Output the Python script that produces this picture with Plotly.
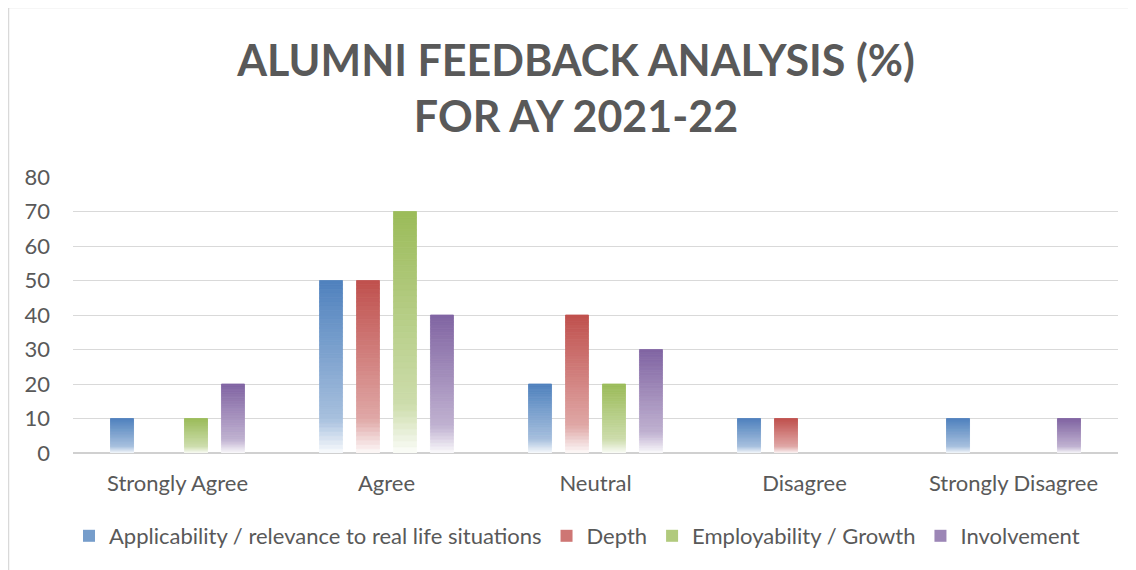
import plotly.graph_objects as go

categories = ["Strongly Agree", "Agree", "Neutral", "Disagree", "Strongly Disagree"]
applicability = [10, 50, 20, 10, 10]
depth = [0, 50, 40, 10, 0]
employability = [10, 70, 20, 0, 0]
involvement = [20, 40, 30, 0, 10]

series = [
    ("Applicability / relevance to real life situations", applicability, (79, 129, 189)),
    ("Depth", depth, (192, 80, 77)),
    ("Employability / Growth", employability, (155, 187, 89)),
    ("Involvement", involvement, (128, 100, 162)),
]

N = 40  # gradient steps


def mix(rgb, t):
    # t: 0 at top of bar, 1 at bottom
    if t < 0.8:
        w = 0.5 * t / 0.8
    else:
        w = 0.5 + 0.47 * (t - 0.8) / 0.2
    r, g, b = [int(round(c + (255 - c) * w)) for c in rgb]
    return f"rgb({r},{g},{b})"


fig = go.Figure()
for name, vals, rgb in series:
    lw = [0.8 if v > 0 else 0 for v in vals]
    for k in range(N):
        t = 1 - (k + 0.5) / N
        col = mix(rgb, t)
        fig.add_trace(go.Bar(
            x=categories,
            y=[v / N for v in vals],
            base=[v * k / N for v in vals],
            offsetgroup=name,
            marker=dict(color=col, line=dict(width=lw, color=col)),
            showlegend=False,
            hoverinfo="skip",
            legendgroup=name,
        ))
    fig.add_trace(go.Bar(
        x=categories,
        y=[0] * len(categories),
        offsetgroup=name,
        name=name,
        legendgroup=name,
        marker=dict(color=mix(rgb, 0.35), line=dict(width=0)),
        showlegend=True,
    ))

# the page body adds an 8px offset; figure coordinates = page coordinates - 8
OFF = 8
W, H = 1136 - OFF, 570 - OFF
L, R, T, B = 73 - OFF, 18, 177 - OFF, 117
pw = W - L - R
ph = H - T - B


def px_x(x):
    return (x - OFF - L) / pw


def px_y(y):
    return (H - B - (y - OFF)) / ph


fig.update_layout(
    width=W, height=H,
    margin=dict(l=L, r=R, t=T, b=B),
    paper_bgcolor="white",
    plot_bgcolor="white",
    barmode="group",
    bargap=0.292,
    bargroupgap=0.378,
    font=dict(family="Lato", color="#595959", size=22),
    title=dict(
        text="<b>ALUMNI FEEDBACK ANALYSIS (%)<br>FOR AY 2021-22</b>",
        x=568 / W, xanchor="center", xref="container",
        y=1 - 68 / H, yanchor="middle", yref="container",
        font=dict(family="Lato", size=43, color="#595959"),
    ),
    xaxis=dict(
        showgrid=False, showline=False, ticks="",
        tickfont=dict(size=22, color="#595959"),
        ticklabelstandoff=15,
    ),
    yaxis=dict(
        range=[0, 80], dtick=10,
        showgrid=True, gridcolor="#D9D9D9", gridwidth=1.3,
        zeroline=True, zerolinecolor="#D0D0D0", zerolinewidth=1.5,
        showline=False, ticks="",
        tickfont=dict(size=22, color="#595959"),
        ticklabelstandoff=22,
    ),
    legend=dict(
        orientation="h", x=px_x(577), xanchor="center",
        y=px_y(536), yanchor="middle",
        font=dict(size=22, color="#595959"),
        itemclick=False,
        traceorder="normal",
    ),
    shapes=[dict(
        type="rect", xref="paper", yref="paper",
        x0=px_x(8.5), x1=px_x(1150), y0=px_y(590), y1=px_y(7.5),
        line=dict(color="#D9D9D9", width=1.5), fillcolor="rgba(0,0,0,0)",
        layer="below",
    )],
)

fig.write_html("out.html")
